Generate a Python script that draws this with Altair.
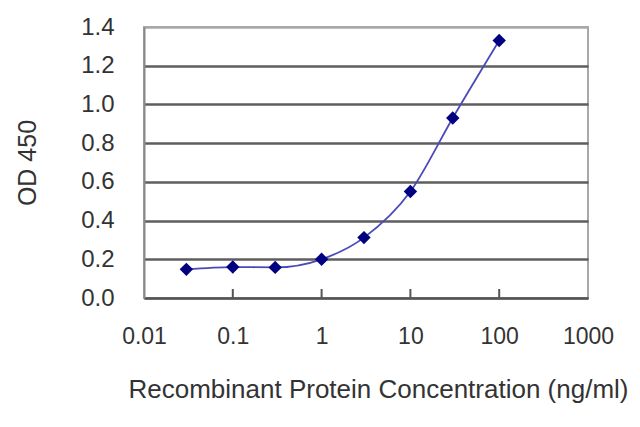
import altair as alt
import pandas as pd

conc = [0.03, 0.1, 0.3, 1, 3, 10, 30, 100]
od450 = [0.148, 0.160, 0.158, 0.200, 0.312, 0.550, 0.930, 1.330]
x_ticks = [0.01, 0.1, 1, 10, 100, 1000]
x_tick_labels = ["0.01", "0.1", "1", "10", "100", "1000"]
y_ticks = [0.0, 0.2, 0.4, 0.6, 0.8, 1.0, 1.2, 1.4]

df = pd.DataFrame({"conc": conc, "od": od450})
ticks_df = pd.DataFrame({"t": x_ticks[1:-1]})

FONT = "Liberation Sans"
label_expr = "datum.value >= 1 ? format(datum.value, 'd') : (datum.value >= 0.1 ? '0.1' : '0.01')"

xscale = alt.Scale(type="log", domain=[0.01, 1000])
yscale = alt.Scale(domain=[0, 1.4], nice=False)

xaxis = alt.Axis(
    values=x_ticks, labelExpr=label_expr, title="Recombinant Protein Concentration (ng/ml)",
    grid=False, ticks=False, domainColor="#555555", domainWidth=2,
    labelFont=FONT, labelFontSize=23, labelColor="#333333", labelPadding=27,
    labelOverlap=False,
    titleFont=FONT, titleFontSize=26, titleFontWeight="normal", titleColor="#333333",
    titlePadding=28, titleX=234, labelFlush=False,
)
yaxis = alt.Axis(
    values=y_ticks, tickCount=8, format=".1f", title="OD 450",
    grid=True,
    gridColor={"condition": {"test": "datum.value >= 1.39", "value": "#a8a8a8"}, "value": "#5e5e5e"},
    gridWidth=2.5, ticks=False,
    domainColor="#888888", domainWidth=2,
    labelFont=FONT, labelFontSize=24, labelColor="#333333", labelPadding=30,
    labelOverlap=False,
    titleFont=FONT, titleFontSize=25, titleFontWeight="normal", titleColor="#333333",
    titlePadding=40,
)

line = alt.Chart(df).mark_line(
    color="#4a4ab8", strokeWidth=1.8, interpolate="monotone"
).encode(
    x=alt.X("conc:Q", scale=xscale, axis=xaxis),
    y=alt.Y("od:Q", scale=yscale, axis=yaxis),
)

points = alt.Chart(df).mark_point(
    shape="diamond", filled=True, color="#000080", size=180, opacity=1
).encode(
    x=alt.X("conc:Q", scale=xscale, axis=xaxis),
    y=alt.Y("od:Q", scale=yscale, axis=yaxis),
)

tick_marks = alt.Chart(ticks_df).mark_rule(color="#555555", strokeWidth=2).encode(
    x=alt.X("t:Q", scale=xscale, axis=xaxis),
    y=alt.value(262),
    y2=alt.value(271),
)

chart = alt.layer(tick_marks, line, points).properties(
    width=444,
    height=271,
    autosize=alt.AutoSizeParams(type="none"),
    padding={"left": 136, "top": 19, "right": 44, "bottom": 121},
    background="white",
).configure_view(
    stroke="#a8a8a8", strokeWidth=2
)

chart.save("out.html", embed_options={"renderer": "svg", "actions": False})
